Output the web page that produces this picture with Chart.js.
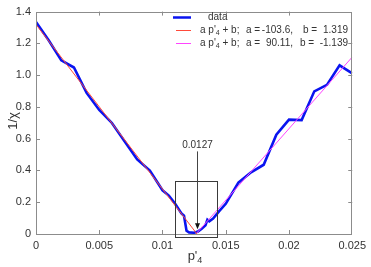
<!DOCTYPE html>
<html>
<head>
<meta charset="utf-8">
<script src="https://cdn.jsdelivr.net/npm/chart.js@4/dist/chart.umd.min.js"></script>
<style>
html,body{margin:0;padding:0;background:#fff;}
canvas{display:block;}
</style>
</head>
<body>
<canvas id="c" width="371" height="267"></canvas>
<script>
// ---- data ----
const dataX = [0, 0.001, 0.002, 0.003, 0.004, 0.005, 0.006, 0.007, 0.008, 0.009, 0.010, 0.0105, 0.011, 0.0115, 0.0117, 0.0119, 0.0121, 0.0125, 0.0128, 0.0131, 0.0134, 0.01355, 0.0137, 0.0140, 0.0145, 0.015, 0.016, 0.017, 0.018, 0.019, 0.020, 0.021, 0.022, 0.023, 0.024, 0.025];
const dataY = [1.335, 1.22, 1.093, 1.048, 0.888, 0.781, 0.699, 0.584, 0.469, 0.399, 0.275, 0.242, 0.19, 0.13, 0.115, 0.02, 0.01, 0.008, 0.015, 0.033, 0.055, 0.09, 0.08, 0.097, 0.145, 0.19, 0.323, 0.388, 0.436, 0.625, 0.72, 0.717, 0.898, 0.939, 1.062, 1.011];
const fit1X = [0, 0.01273];
const fit1Y = [1.319, 0.0];
const fit2X = [0.0127, 0.025];
const fit2Y = [0.005, 1.114];
const xTicks = ['0', '0.005', '0.01', '0.015', '0.02', '0.025'];
const yTicks = ['0', '0.2', '0.4', '0.6', '0.8', '1.0', '1.2', '1.4'];
const legendData = 'data';
const fitA = ['-103.6,', '90.11,'];
const fitB = ['1.319', '-1.139'];
const arrowLabel = '0.0127';
const arrowX = 0.0127, arrowTop = 0.52, arrowTip = 0.03;
const boxX = [0.01095, 0.01434], boxY = [-0.017, 0.333];

const pts = (xs, ys) => xs.map((x, i) => ({x: x, y: ys[i]}));
const FONT = "'Liberation Sans', Arial, Helvetica, sans-serif";
const AXC = '#8c8c8c';
const TXT = '#333333';
const BLUE = '#0a14f0', RED = '#ff4a3a', MAG = '#ff44ff';

const extras = {
  id: 'extras',
  afterDraw(chart) {
    const ctx = chart.ctx, a = chart.chartArea;
    const xs = chart.scales.x, ys = chart.scales.y;
    ctx.save();
    // frame
    ctx.strokeStyle = AXC; ctx.lineWidth = 1;
    ctx.strokeRect(Math.round(a.left) + 0.5, Math.round(a.top) + 0.5, Math.round(a.right - a.left) - 1, Math.round(a.bottom - a.top));
    // inward ticks
    ctx.beginPath();
    xs.ticks.forEach(t => {
      const px = Math.round(xs.getPixelForValue(t.value)) + 0.5;
      if (px < a.left + 2 || px > a.right - 2) return;
      ctx.moveTo(px, a.bottom); ctx.lineTo(px, a.bottom - 4);
      ctx.moveTo(px, a.top); ctx.lineTo(px, a.top + 4);
    });
    ys.ticks.forEach(t => {
      const py = Math.round(ys.getPixelForValue(t.value)) + 0.5;
      if (py < a.top + 2 || py > a.bottom - 2) return;
      ctx.moveTo(a.left, py); ctx.lineTo(a.left + 4, py);
      ctx.moveTo(a.right, py); ctx.lineTo(a.right - 4, py);
    });
    ctx.stroke();

    // zoom box
    ctx.strokeStyle = '#3a3a3a';
    const bx0 = Math.round(xs.getPixelForValue(boxX[0])) + 0.5;
    const bx1 = Math.round(xs.getPixelForValue(boxX[1])) + 0.5;
    const by0 = Math.round(ys.getPixelForValue(boxY[1])) + 0.5;
    const by1 = Math.round(ys.getPixelForValue(boxY[0])) + 0.5;
    ctx.strokeRect(bx0, by0, bx1 - bx0, by1 - by0);

    // arrow
    const ax = Math.round(xs.getPixelForValue(arrowX)) + 0.5;
    const ay0 = ys.getPixelForValue(arrowTop), ay1 = ys.getPixelForValue(arrowTip);
    ctx.strokeStyle = '#444'; ctx.beginPath();
    ctx.moveTo(ax, ay0); ctx.lineTo(ax, ay1 - 5); ctx.stroke();
    ctx.fillStyle = '#111'; ctx.beginPath();
    ctx.moveTo(ax - 2.5, ay1 - 6); ctx.lineTo(ax + 2.5, ay1 - 6); ctx.lineTo(ax, ay1); ctx.closePath(); ctx.fill();
    ctx.fillStyle = TXT; ctx.font = '10px ' + FONT; ctx.textAlign = 'center'; ctx.textBaseline = 'middle';
    ctx.fillText(arrowLabel, ax, ay0 - 6);

    // legend
    const rows = [17.5, 30, 43];
    ctx.lineCap = 'butt';
    ctx.strokeStyle = BLUE; ctx.lineWidth = 2.5; ctx.beginPath();
    ctx.moveTo(173, rows[0]); ctx.lineTo(191, rows[0]); ctx.stroke();
    ctx.lineWidth = 1;
    ctx.strokeStyle = RED; ctx.beginPath(); ctx.moveTo(176, rows[1] + 0.5); ctx.lineTo(191, rows[1] + 0.5); ctx.stroke();
    ctx.strokeStyle = MAG; ctx.beginPath(); ctx.moveTo(176, rows[2] + 0.5); ctx.lineTo(191, rows[2] + 0.5); ctx.stroke();
    ctx.fillStyle = TXT; ctx.font = '10px ' + FONT; ctx.textBaseline = 'middle';
    ctx.textAlign = 'left';
    ctx.fillText(legendData, 208, rows[0]);
    const bPos = [303, 300];
    for (let r = 1; r <= 2; r++) {
      const y = rows[r];
      let x = 200;
      ctx.font = '10px ' + FONT; ctx.textAlign = 'left';
      ctx.fillText("a p'", x, y); x += ctx.measureText("a p'").width;
      ctx.font = '7px ' + FONT; ctx.fillText('4', x, y + 3); x += ctx.measureText('4').width;
      ctx.font = '10px ' + FONT; ctx.fillText(' + b;', x, y);
      ctx.fillText('a =', 246, y);
      ctx.fillText('b =', bPos[r - 1], y);
      ctx.textAlign = 'right';
      ctx.fillText(fitA[r - 1], 293, y);
      ctx.fillText(fitB[r - 1], 348, y);
    }

    // axis titles
    ctx.fillStyle = TXT; ctx.textAlign = 'left'; ctx.textBaseline = 'middle';
    ctx.font = '13px ' + FONT;
    const t1 = "p'"; const w1 = ctx.measureText(t1).width;
    ctx.font = '9px ' + FONT; const w2 = ctx.measureText('4').width;
    let tx = 195 - (w1 + w2) / 2;
    ctx.font = '13px ' + FONT; ctx.fillText(t1, tx, 256);
    ctx.font = '9px ' + FONT; ctx.fillText('4', tx + w1, 261);
    ctx.translate(13, 121); ctx.rotate(-Math.PI / 2);
    ctx.textAlign = 'center'; ctx.font = '13px ' + FONT;
    ctx.fillText('1/χ', 0, 0);
    ctx.restore();
  }
};

new Chart(document.getElementById('c'), {
  type: 'scatter',
  data: {
    datasets: [
      {label: 'data', data: pts(dataX, dataY), showLine: true, borderColor: BLUE, backgroundColor: BLUE, borderWidth: 2.6, pointRadius: 0, order: 3},
      {label: 'fit1', data: pts(fit1X, fit1Y), showLine: true, borderColor: RED, borderWidth: 1, pointRadius: 0, order: 1},
      {label: 'fit2', data: pts(fit2X, fit2Y), showLine: true, borderColor: MAG, borderWidth: 1, pointRadius: 0, order: 2}
    ]
  },
  options: {
    responsive: false,
    animation: false,
    events: [],
    layout: {padding: {left: 0, right: 16, top: 7, bottom: 0}},
    plugins: {legend: {display: false}, tooltip: {enabled: false}},
    scales: {
      x: {
        type: 'linear', min: 0, max: 0.025,
        grid: {display: false, drawTicks: false}, border: {display: false},
        ticks: {stepSize: 0.005, padding: 5, color: TXT, font: {family: FONT, size: 11}, maxRotation: 0,
          callback: (v) => xTicks[Math.round(v / 0.005)]},
        afterFit: s => { s.height = 33; }
      },
      y: {
        min: 0, max: 1.4,
        grid: {display: false, drawTicks: false}, border: {display: false},
        ticks: {stepSize: 0.2, padding: 5, color: TXT, font: {family: FONT, size: 11},
          callback: (v) => yTicks[Math.round(v / 0.2)]},
        afterFit: s => { s.width = 36; }
      }
    }
  },
  plugins: [extras]
});
</script>
</body>
</html>
